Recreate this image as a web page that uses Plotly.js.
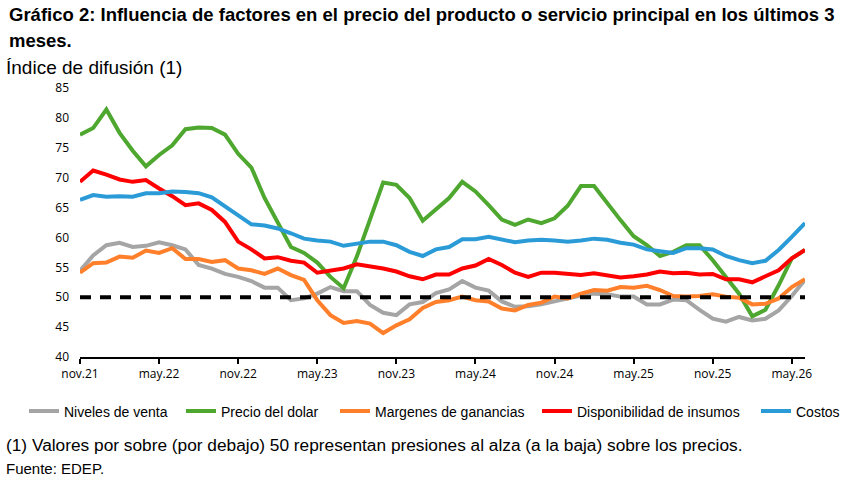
<!DOCTYPE html>
<html>
<head>
<meta charset="utf-8">
<script src="https://cdn.plot.ly/plotly-3.0.1.min.js"></script>
<style>
  html, body { margin: 0; padding: 0; background: #ffffff; }
  #chart { width: 844px; height: 485px; }
</style>
</head>
<body>
<div id="chart"></div>
<script>

// meses desde nov.21 hasta jun.26 (56 observaciones)
var tickPos = [0, 6, 12, 18, 24, 30, 36, 42, 48, 54];
var tickLabels = ['nov.21', 'may.22', 'nov.22', 'may.23', 'nov.23', 'may.24', 'nov.24', 'may.25', 'nov.25', 'may.26'];

var nivelesVenta = [
	54.4, 57.0, 58.7, 59.1, 58.4, 58.6, 59.2, 58.7, 58.0, 55.4,
	54.8, 53.9, 53.4, 52.7, 51.6, 51.6, 49.5, 49.8, 50.6, 51.7,
	51.0, 51.0, 48.7, 47.4, 47.0, 48.8, 49.2, 50.7, 51.3, 52.7,
	51.6, 51.1, 49.3, 48.4, 48.5, 48.8, 49.3, 49.8, 50.3, 50.6,
	50.5, 50.1, 50.1, 48.8, 48.8, 49.6, 49.5, 47.9, 46.4, 45.9,
	46.7, 46.1, 46.4, 47.8, 50.2, 52.9
];

var precioDolar = [
	77.2, 78.3, 81.4, 77.5, 74.5, 71.9, 73.8, 75.4, 78.1, 78.4,
	78.3, 77.2, 74.0, 71.7, 66.6, 62.6, 58.4, 57.4, 55.8, 53.4,
	51.5, 56.8, 62.9, 69.2, 68.8, 66.6, 62.8, 64.6, 66.6, 69.3,
	67.7, 65.4, 63.0, 62.1, 63.0, 62.4, 63.2, 65.3, 68.6, 68.6,
	65.7, 62.9, 60.2, 58.7, 56.9, 57.6, 58.7, 58.7, 56.2, 53.5,
	50.6, 46.8, 47.9, 52.0, 56.5, 57.9
];

var margenes = [
	54.1, 55.7, 55.8, 56.8, 56.6, 57.8, 57.4, 58.2, 56.4, 56.4,
	55.9, 56.2, 54.8, 54.5, 53.9, 54.8, 53.7, 52.9, 49.5, 47.0,
	45.7, 46.0, 45.6, 44.0, 45.3, 46.3, 48.2, 49.2, 49.5, 50.1,
	49.5, 49.3, 48.1, 47.8, 48.7, 49.1, 50.1, 49.8, 50.6, 51.2,
	51.1, 51.7, 51.6, 51.9, 51.2, 50.2, 50.1, 50.2, 50.5, 50.1,
	49.9, 48.8, 48.9, 49.8, 51.7, 53.0
];

var insumos = [
	69.3, 71.2, 70.5, 69.7, 69.3, 69.6, 68.2, 66.9, 65.4, 65.7,
	64.6, 62.6, 59.3, 58.0, 56.5, 56.7, 56.1, 55.8, 54.1, 54.4,
	54.8, 55.5, 55.2, 54.8, 54.3, 53.5, 53.0, 53.8, 53.8, 54.8,
	55.3, 56.4, 55.4, 54.1, 53.4, 54.1, 54.1, 53.9, 53.7, 54.0,
	53.7, 53.3, 53.5, 53.8, 54.3, 54.0, 54.1, 53.8, 53.9, 53.0,
	53.0, 52.5, 53.5, 54.5, 56.5, 57.9
];

var costos = [
	66.3, 67.1, 66.8, 66.9, 66.8, 67.4, 67.4, 67.7, 67.6, 67.4,
	66.7, 65.2, 63.5, 62.2, 62.0, 61.5, 60.7, 59.8, 59.5, 59.3,
	58.6, 59.0, 59.3, 59.3, 58.7, 57.6, 56.9, 58.0, 58.4, 59.7,
	59.7, 60.1, 59.6, 59.2, 59.5, 59.6, 59.5, 59.3, 59.5, 59.8,
	59.6, 59.1, 58.8, 58.0, 57.7, 57.4, 58.2, 58.2, 58.0, 56.9,
	56.2, 55.7, 56.1, 57.9, 60.1, 62.4
];

var umbral = 50;

var series = [
	{ name: 'Niveles de venta',          y: nivelesVenta, color: '#a5a5a5' },
	{ name: 'Precio del dolar',          y: precioDolar,  color: '#4ea72e' },
	{ name: 'Margenes de ganancias',     y: margenes,     color: '#ff7f2a' },
	{ name: 'Disponibilidad de insumos', y: insumos,      color: '#ff0000' },
	{ name: 'Costos',                    y: costos,       color: '#2b9bd8' }
];

// plot area in px, used to place legends and notes
var PL = 80, PR = 805, PT = 88, PB = 357;
var pw = PR - PL, ph = PB - PT;
function px2x(p) { return (p - PL) / pw; }
function px2y(p) { return (PB - p) / ph; }

// left edge (px) of each legend entry, so the text lands where it does in the original
var legendLeft = [24, 181, 335, 537, 756];
var legendKeys = ['legend', 'legend2', 'legend3', 'legend4', 'legend5'];

var traces = [];
for (var i = 0; i < series.length; i++) {
	var s = series[i];
	var xs = [];
	for (var j = 0; j < s.y.length; j++) xs.push(j);
	traces.push({
		x: xs,
		y: s.y,
		name: s.name,
		type: 'scatter',
		mode: 'lines',
		line: { color: s.color, width: 4 },
		legend: legendKeys[i],
		hoverinfo: 'skip'
	});
}

var nLast = nivelesVenta.length - 1;
var txtFont = 'Liberation Sans, Arial, sans-serif';

var layout = {
	width: 844, height: 485,
	margin: { l: PL, r: 844 - PR, t: PT, b: 485 - PB, autoexpand: false },
	paper_bgcolor: '#ffffff',
	plot_bgcolor: '#ffffff',
	font: { family: 'Open Sans, sans-serif', size: 12, color: '#000000' },
	showlegend: true,
	xaxis: {
		range: [0, nLast],
		tickvals: tickPos,
		ticktext: tickLabels,
		showgrid: false,
		zeroline: false,
		showline: true,
		linecolor: '#000000',
		linewidth: 2,
		ticks: 'outside',
		ticklen: 5,
		tickwidth: 2,
		tickcolor: '#000000',
		tickfont: { family: 'Open Sans, sans-serif', size: 12 },
		fixedrange: true
	},
	yaxis: {
		range: [40, 85],
		dtick: 5,
		tick0: 40,
		showgrid: false,
		zeroline: false,
		showline: false,
		ticks: '',
		ticklabelstandoff: 10,
		tickfont: { family: 'Open Sans, sans-serif', size: 12 },
		fixedrange: true
	},
	shapes: [{
		type: 'line', xref: 'x', yref: 'y',
		x0: 0, x1: nLast, y0: umbral, y1: umbral,
		line: { color: '#000000', width: 4, dash: '11px,9px' },
		layer: 'above'
	}],
	annotations: [
		{
			text: '<b>Gráfico 2: Influencia de factores en el precio del producto o servicio principal en los últimos 3</b>',
			xref: 'paper', yref: 'paper', x: px2x(7), y: px2y(15), xanchor: 'left', yanchor: 'middle',
			showarrow: false,
			font: { family: txtFont, size: 18.5, color: '#000000' }
		},
		{
			text: '<b>meses.</b>',
			xref: 'paper', yref: 'paper', x: px2x(7), y: px2y(40), xanchor: 'left', yanchor: 'middle',
			showarrow: false,
			font: { family: txtFont, size: 18.5, color: '#000000' }
		},
		{
			text: 'Índice de difusión (1)',
			xref: 'paper', yref: 'paper', x: px2x(4), y: px2y(67), xanchor: 'left', yanchor: 'middle',
			showarrow: false,
			font: { family: txtFont, size: 19, color: '#000000' }
		},
		{
			text: '(1) Valores por sobre (por debajo) 50 representan presiones al alza (a la baja) sobre los precios.',
			xref: 'paper', yref: 'paper', x: px2x(4), y: px2y(445), xanchor: 'left', yanchor: 'middle',
			showarrow: false,
			font: { family: txtFont, size: 17.3, color: '#000000' }
		},
		{
			text: 'Fuente: EDEP.',
			xref: 'paper', yref: 'paper', x: px2x(4), y: px2y(468), xanchor: 'left', yanchor: 'middle',
			showarrow: false,
			font: { family: txtFont, size: 15, color: '#000000' }
		}
	]
};

for (var k = 0; k < legendKeys.length; k++) {
	layout[legendKeys[k]] = {
		orientation: 'h',
		x: px2x(legendLeft[k]), xanchor: 'left',
		y: px2y(395.5), yanchor: 'top',
		bgcolor: 'rgba(0,0,0,0)',
		font: { family: txtFont, size: 14, color: '#000000' },
		itemwidth: 30
	};
}

Plotly.newPlot('chart', traces, layout, { displayModeBar: false, staticPlot: true });

</script>
</body>
</html>
